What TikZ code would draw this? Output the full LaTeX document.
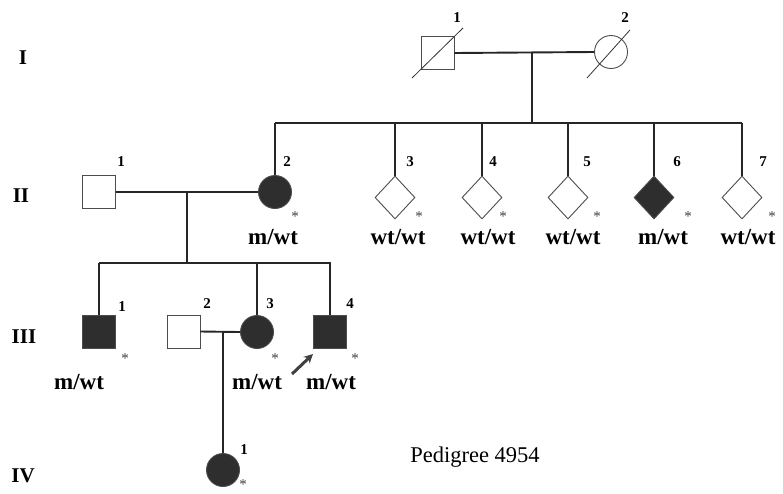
\documentclass[tikz,border=0pt]{standalone}
\usepackage{fontspec}
\setmainfont{Liberation Serif}
\usetikzlibrary{shapes.geometric,arrows.meta}
\tikzset{
  conn/.style={line width=1.9pt, black!85},
  sym/.style={draw=black!70, line width=0.9pt, inner sep=0pt},
  male/.style={sym, rectangle, minimum size=33pt},
  female/.style={sym, circle, minimum size=33pt},
  unk/.style={sym, diamond, minimum width=40pt, minimum height=43pt},
  aff/.style={fill=black!82},
  num/.style={font=\fontsize{15}{15}\selectfont\bfseries, inner sep=0pt},
  gen/.style={font=\fontsize{21}{21}\selectfont\bfseries, inner sep=0pt},
  geno/.style={font=\fontsize{23}{23}\selectfont\bfseries, inner sep=0pt},
  star/.style={font=\fontsize{15}{15}\selectfont, inner sep=0pt, black!75},
  dec/.style={line width=0.8pt, black!80}
}
\begin{document}
\begin{tikzpicture}[x=1pt,y=-1pt]
\useasboundingbox (0,0) rectangle (783,493);
% generation labels
\node[gen] (gI) at (23,58) {I};
\node[gen] (gII) at (21,196) {II};
\node[gen] (gIII) at (24,337) {III};
\node[gen] (gIV) at (23,476) {IV};
% Generation I
\node[male] (I1) at (437.5,53) {};
\node[female] (I2) at (611,52) {};
\coordinate (d1a) at (412,78); \coordinate (d1b) at (463,28);
\coordinate (d2a) at (587,78); \coordinate (d2b) at (630,30);
\draw[dec] (d1a) -- (d1b);
\draw[dec] (d2a) -- (d2b);
\node[num] (nI1) at (457,18) {1};
\node[num] (nI2) at (625,18) {2};
% Generation II
\node[male] (II1) at (99,192) {};
\node[female,aff] (II2) at (275,192) {};
\node[unk] (II3) at (395,197.5) {};
\node[unk] (II4) at (482,197.5) {};
\node[unk] (II5) at (568,197.5) {};
\node[unk,aff] (II6) at (654,197.5) {};
\node[unk] (II7) at (742,197.5) {};
\node[num] (nII1) at (121,162) {1};
\node[num] (nII2) at (287,162) {2};
\node[num] (nII3) at (410,162) {3};
\node[num] (nII4) at (493,162) {4};
\node[num] (nII5) at (587,162) {5};
\node[num] (nII6) at (677,162) {6};
\node[num] (nII7) at (763,162) {7};
\node[star] (sII2) at (295,217) {*};
\node[star] (sII3) at (419,217) {*};
\node[star] (sII4) at (503,217) {*};
\node[star] (sII5) at (597,217) {*};
\node[star] (sII6) at (688,217) {*};
\node[star] (sII7) at (772,217) {*};
\node[geno] (gII2) at (273,237) {m/wt};
\node[geno] (gII3) at (398,237) {wt/wt};
\node[geno] (gII4) at (488,237) {wt/wt};
\node[geno] (gII5) at (573,237) {wt/wt};
\node[geno] (gII6) at (663,237) {m/wt};
\node[geno] (gII7) at (748,237) {wt/wt};
% Generation III
\node[male,aff] (III1) at (99,332) {};
\node[male] (III2) at (183.5,331.5) {};
\node[female,aff] (III3) at (257,332) {};
\node[male,aff] (III4) at (330,332) {};
\node[num] (nIII1) at (122,307) {1};
\node[num] (nIII2) at (207,304) {2};
\node[num] (nIII3) at (270,304) {3};
\node[num] (nIII4) at (350,304) {4};
\node[star] (sIII1) at (125,359) {*};
\node[star] (sIII3) at (275,359) {*};
\node[star] (sIII4) at (355,359) {*};
\node[geno] (gIII1) at (79,382) {m/wt};
\node[geno] (gIII3) at (257,382) {m/wt};
\node[geno] (gIII4) at (331,382) {m/wt};
\coordinate (arrS) at (292,374);
\coordinate (arrE) at (313,354);
\draw[line width=3pt, black!75, -{Stealth[length=9pt,width=9pt]}] (arrS) -- (arrE);
% Generation IV
\node[female,aff] (IV1) at (223,470) {};
\node[num] (nIV1) at (244,450) {1};
\node[star] (sIV1) at (243,485) {*};
% title
\node[font=\fontsize{22.5}{22.5}\selectfont, inner sep=0pt] (title) at (475,457) {Pedigree 4954};
% connectors
\coordinate (m1) at (531.7,52);
\coordinate (s1) at (531.7,123.3);
\coordinate (s1L) at (275,123.3);
\coordinate (s1R) at (742,123.3);
\draw[conn] (I1.east) -- (I2.west);
\draw[conn] (m1) -- (s1);
\draw[conn] (s1L) -- (s1R);
\foreach \c in {II2,II3,II4,II5,II6,II7}{
  \draw[conn] (\c.north |- s1L) -- (\c.north);
}
\coordinate (m2) at (187,191);
\coordinate (s2) at (187,263);
\coordinate (s2L) at (99,263);
\coordinate (s2R) at (331,263);
\draw[conn] (II1.east) -- (II2.west);
\draw[conn] (m2) -- (s2);
\draw[conn] (s2L) -- (s2R);
\foreach \c in {III1,III3,III4}{
  \draw[conn] (\c.north |- s2L) -- (\c.north);
}
\coordinate (m3) at (223,331.5);
\draw[conn] (III2.east) -- (III3.west);
\draw[conn] (m3) -- (IV1.north);
\end{tikzpicture}
\end{document}
